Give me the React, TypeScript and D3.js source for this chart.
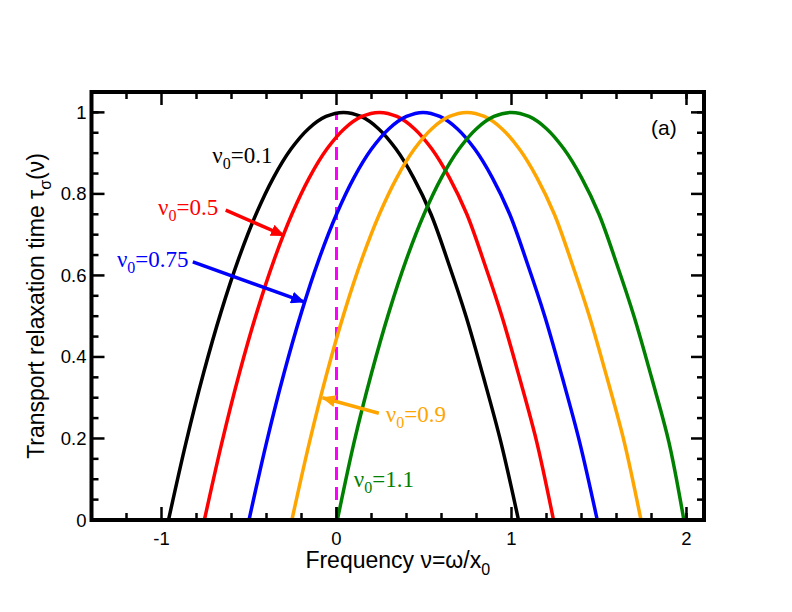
import * as d3 from "d3";

const WIDTH = 792;
const HEIGHT = 612;
const MARGIN = { top: 92, right: 88, bottom: 92, left: 91.5 };

// x / y domains of the frame
const X_DOMAIN: [number, number] = [-1.4, 2.1];
const Y_DOMAIN: [number, number] = [0, 1.05];

const xMajorTicks = [-1, 0, 1, 2];
const xMinorTicks = [-1.2, -0.8, -0.6, -0.4, -0.2, 0.2, 0.4, 0.6, 0.8, 1.2, 1.4, 1.6, 1.8, 2.0];
const yMajorTicks = [0, 0.2, 0.4, 0.6, 0.8, 1.0];
const yMajorLabels = ["0", "0.2", "0.4", "0.6", "0.8", "1"];
const yMinorTicks = [0.05, 0.1, 0.15, 0.25, 0.3, 0.35, 0.45, 0.5, 0.55, 0.65, 0.7, 0.75, 0.85, 0.9, 0.95, 1.0];

// curves: frequency nu, relaxation time tau
const nuBlack = [-0.96, -0.86, -0.76, -0.66, -0.56, -0.46, -0.36, -0.26, -0.16, -0.06, 0.04, 0.14, 0.24, 0.34, 0.44, 0.54, 0.64, 0.74, 0.84, 0.94, 1.04];
const tauBlack = [0, 0.19, 0.36, 0.51, 0.64, 0.75, 0.84, 0.91, 0.96, 0.99, 1.0, 0.99, 0.96, 0.91, 0.84, 0.75, 0.63, 0.5, 0.35, 0.19, 0];

const nuRed = [-0.755, -0.655, -0.555, -0.455, -0.355, -0.255, -0.155, -0.055, 0.045, 0.145, 0.245, 0.345, 0.445, 0.545, 0.645, 0.745, 0.845, 0.945, 1.045, 1.145, 1.24];
const tauRed = [0, 0.19, 0.36, 0.51, 0.64, 0.75, 0.84, 0.91, 0.96, 0.99, 1.0, 0.99, 0.96, 0.91, 0.84, 0.75, 0.63, 0.5, 0.35, 0.19, 0];

const nuBlue = [-0.5, -0.4, -0.3, -0.2, -0.1, 0.0, 0.1, 0.2, 0.3, 0.4, 0.495, 0.59, 0.69, 0.79, 0.89, 0.99, 1.09, 1.19, 1.29, 1.39, 1.49];
const tauBlue = [0, 0.19, 0.36, 0.51, 0.64, 0.75, 0.84, 0.91, 0.96, 0.99, 1.0, 0.99, 0.96, 0.91, 0.84, 0.75, 0.63, 0.5, 0.35, 0.19, 0];

const nuOrange = [-0.255, -0.155, -0.055, 0.045, 0.145, 0.245, 0.345, 0.445, 0.545, 0.645, 0.745, 0.845, 0.945, 1.045, 1.145, 1.245, 1.345, 1.445, 1.545, 1.645, 1.74];
const tauOrange = [0, 0.19, 0.36, 0.51, 0.64, 0.75, 0.84, 0.91, 0.96, 0.99, 1.0, 0.99, 0.96, 0.91, 0.84, 0.75, 0.63, 0.5, 0.35, 0.19, 0];

const nuGreen = [0.005, 0.1, 0.2, 0.3, 0.4, 0.5, 0.6, 0.7, 0.8, 0.9, 1.0, 1.1, 1.2, 1.3, 1.4, 1.5, 1.6, 1.7, 1.8, 1.9, 1.985];
const tauGreen = [0, 0.19, 0.36, 0.51, 0.64, 0.75, 0.84, 0.91, 0.96, 0.99, 1.0, 0.99, 0.96, 0.91, 0.84, 0.75, 0.63, 0.5, 0.35, 0.19, 0];

const series = [
  { nu: nuBlack, tau: tauBlack, color: "#000000" },
  { nu: nuRed, tau: tauRed, color: "#ff0000" },
  { nu: nuBlue, tau: tauBlue, color: "#0000ff" },
  { nu: nuOrange, tau: tauOrange, color: "#ffa500" },
  { nu: nuGreen, tau: tauGreen, color: "#008000" },
];

// nu_0 labels: value, colour, anchor point (nu, tau)
const labelValues = ["0.1", "0.5", "0.75", "0.9", "1.1"];
const labelColors = ["#000000", "#ff0000", "#0000ff", "#ffa500", "#008000"];
const labelNu = [-0.71, -1.02, -1.255, 0.282, 0.099];
const labelTau = [0.876, 0.748, 0.621, 0.240, 0.081];

// arrows: tail (nu, tau) -> head (nu, tau)
const arrows = [
  { color: "#ff0000", from: [-0.633, 0.76], to: [-0.3, 0.698] },
  { color: "#0000ff", from: [-0.821, 0.633], to: [-0.185, 0.535] },
  { color: "#ffa500", from: [0.242, 0.262], to: [-0.08, 0.3] },
];

const SANS = "'Liberation Sans', Arial, sans-serif";
const SERIF = "'Liberation Serif', 'Times New Roman', serif";

export default function App() {
  const x = d3.scaleLinear().domain(X_DOMAIN).range([MARGIN.left, WIDTH - MARGIN.right]);
  const y = d3.scaleLinear().domain(Y_DOMAIN).range([HEIGHT - MARGIN.bottom, MARGIN.top]);

  const x0 = x.range()[0];
  const x1 = x.range()[1];
  const yb = y.range()[0];
  const yt = y.range()[1];

  const line = d3
    .line<[number, number]>()
    .x((d) => x(d[0]))
    .y((d) => y(d[1]))
    .curve(d3.curveCatmullRom.alpha(0.5));

  const MAJOR = 13;
  const MINOR = 7;

  return (
    <svg
      width={WIDTH}
      height={HEIGHT}
      style={{ position: "absolute", left: 0, top: 0, background: "#fff" }}
    >
      <defs>
        {arrows.map((a, i) => (
          <marker
            key={i}
            id={`ah${i}`}
            markerUnits="userSpaceOnUse"
            markerWidth={14}
            markerHeight={12}
            refX={13}
            refY={6}
            orient="auto"
          >
            <path d="M0,0 L14,6 L0,12 Z" fill={a.color} />
          </marker>
        ))}
      </defs>
      <rect width={WIDTH} height={HEIGHT} fill="#fff" />

      {/* dashed line at nu = 0 */}
      <line
        x1={x(0)}
        x2={x(0)}
        y1={y(0)}
        y2={y(1)}
        stroke="#ff00ff"
        strokeWidth={3}
        strokeDasharray="13,7"
      />

      {/* curves */}
      {series.map((s, i) => (
        <path
          key={i}
          d={line(s.nu.map((v, j) => [v, s.tau[j]] as [number, number])) ?? ""}
          fill="none"
          stroke={s.color}
          strokeWidth={3.5}
          strokeLinejoin="round"
        />
      ))}

      {/* arrows */}
      {arrows.map((a, i) => (
        <line
          key={i}
          x1={x(a.from[0])}
          y1={y(a.from[1])}
          x2={x(a.to[0])}
          y2={y(a.to[1])}
          stroke={a.color}
          strokeWidth={3.5}
          markerEnd={`url(#ah${i})`}
        />
      ))}

      {/* nu_0 labels */}
      {labelValues.map((v, i) => (
        <text
          key={i}
          x={x(labelNu[i])}
          y={y(labelTau[i])}
          fontFamily={SERIF}
          fontSize={23}
          fill={labelColors[i]}
        >
          ν
          <tspan fontSize={16} dy={6}>
            0
          </tspan>
          <tspan dy={-6}>={v}</tspan>
        </text>
      ))}

      <text x={x(1.797)} y={y(0.944)} fontFamily={SANS} fontSize={21} fill="#000">
        (a)
      </text>

      {/* frame ticks */}
      <g stroke="#000" strokeWidth={2.5}>
        {xMajorTicks.map((t) => (
          <g key={`xM${t}`}>
            <line x1={x(t)} x2={x(t)} y1={yb} y2={yb - MAJOR} />
            <line x1={x(t)} x2={x(t)} y1={yt} y2={yt + MAJOR} />
          </g>
        ))}
        {xMinorTicks.map((t) => (
          <g key={`xm${t}`}>
            <line x1={x(t)} x2={x(t)} y1={yb} y2={yb - MINOR} />
            <line x1={x(t)} x2={x(t)} y1={yt} y2={yt + MINOR} />
          </g>
        ))}
        {yMajorTicks.map((t) => (
          <g key={`yM${t}`}>
            <line x1={x0} x2={x0 + MAJOR} y1={y(t)} y2={y(t)} />
            <line x1={x1} x2={x1 - MAJOR} y1={y(t)} y2={y(t)} />
          </g>
        ))}
        {yMinorTicks.map((t) => (
          <g key={`ym${t}`}>
            <line x1={x0} x2={x0 + MINOR} y1={y(t)} y2={y(t)} />
            <line x1={x1} x2={x1 - MINOR} y1={y(t)} y2={y(t)} />
          </g>
        ))}
      </g>
      <rect
        x={x0}
        y={yt}
        width={x1 - x0}
        height={yb - yt}
        fill="none"
        stroke="#000"
        strokeWidth={4}
      />

      {/* tick labels */}
      {xMajorTicks.map((t) => (
        <text
          key={`xl${t}`}
          x={x(t)}
          y={yb + 25}
          textAnchor="middle"
          fontFamily={SANS}
          fontSize={18.5}
          fill="#000"
        >
          {t}
        </text>
      ))}
      {yMajorTicks.map((t, i) => (
        <text
          key={`yl${t}`}
          x={x0 - 5}
          y={y(t) + 6.5}
          textAnchor="end"
          fontFamily={SANS}
          fontSize={18.5}
          fill="#000"
        >
          {yMajorLabels[i]}
        </text>
      ))}

      {/* axis titles */}
      <text
        x={(x0 + x1) / 2}
        y={568}
        textAnchor="middle"
        fontFamily={SANS}
        fontSize={23}
        fill="#000"
      >
        Frequency ν=ω/x
        <tspan fontSize={16} dy={7}>
          0
        </tspan>
      </text>
      <text
        transform={`translate(44,${(yt + yb) / 2}) rotate(-90)`}
        textAnchor="middle"
        fontFamily={SANS}
        fontSize={23}
        fill="#000"
      >
        Transport relaxation time τ
        <tspan fontSize={16} dy={7}>
          σ
        </tspan>
        <tspan dy={-7}>(ν)</tspan>
      </text>
    </svg>
  );
}
